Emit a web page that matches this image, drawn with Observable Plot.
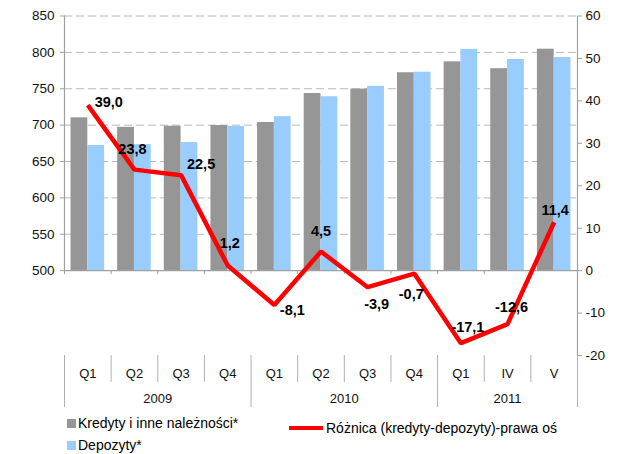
<!DOCTYPE html>
<html>
<head>
<meta charset="utf-8">
<script src="https://cdn.jsdelivr.net/npm/d3@7"></script>
<script src="https://cdn.jsdelivr.net/npm/@observablehq/plot@0.6"></script>
<style>
  html, body { margin: 0; padding: 0; background: #fff; }
  #wrap { position: relative; width: 620px; height: 454px; font-family: "Liberation Sans", Arial, sans-serif; }
  #wrap svg { position: absolute; left: 0; top: 0; }
  .leg { position: absolute; font-size: 14px; color: #000; line-height: 16px; white-space: nowrap; }
  .sw { position: absolute; }
</style>
</head>
<body>
<div id="wrap"></div>
<script>
// ---- data ----
const categories = ["Q1","Q2","Q3","Q4","Q1","Q2","Q3","Q4","Q1","IV","V"];
const years = ["2009","2010","2011"];
const yearStart = [0, 4, 8];
const yearEnd = [4, 8, 11];
const kredyty = [710, 697, 698.5, 699.5, 703.6, 743.5, 749.5, 772, 787, 777.6, 804.4];
const depozyty = [672, 673.2, 676, 698.3, 711.7, 739, 753.4, 772.7, 804.1, 790.2, 793];
const roznica = [39.0, 23.8, 22.5, 1.2, -8.1, 4.5, -3.9, -0.7, -17.1, -12.6, 11.4];
const leftTicks = [500, 550, 600, 650, 700, 750, 800, 850];
const rightTicks = [-20, -10, 0, 10, 20, 30, 40, 50, 60];
const seriesNames = ["Kredyty i inne należności*", "Depozyty*", "Różnica (kredyty-depozyty)-prawa oś"];

// label placement (pixels) for the difference labels
const labelDx = [21, -2, 20, 2, 18, 0, 9, -3, 7, 4, 1];
const labelDy = [-3, -20, -11, -22, 5, -20, 17, 21, -16, -17, -12];

// ---- helpers ----
const LMIN = 500, LMAX = 850, RMAX = 60;
const toRight = v => (v - LMIN) * RMAX / (LMAX - LMIN);
const toLeft = r => LMIN + r * (LMAX - LMIN) / RMAX;
const fmt = v => v.toFixed(1).replace(".", ",");

const idx = categories.map((c, i) => i);
const barsK = idx.map(i => ({x1: i + 0.14, x2: i + 0.5, y1: 0, y2: toRight(kredyty[i])}));
const barsD = idx.map(i => ({x1: i + 0.5, x2: i + 0.86, y1: 0, y2: toRight(depozyty[i])}));
const linePts = idx.map(i => ({x: i + 0.5, y: roznica[i], label: fmt(roznica[i]), dx: labelDx[i], dy: labelDy[i]}));
const cats = idx.map(i => ({x: i + 0.5, label: categories[i]}));
const yrs = years.map((y, j) => ({x: (yearStart[j] + yearEnd[j]) / 2, label: y}));
const boundaries = d3.range(0, categories.length + 1);
const yearBounds = [...new Set([...yearStart, ...yearEnd])];
const quarterBounds = boundaries.filter(b => !yearBounds.includes(b));
const gridVals = leftTicks.filter(t => t > LMIN).map(toRight);

const H = 410;
const pxPerUnit = (355 - 15.5) / 80;

const chart = Plot.plot({
  width: 620,
  height: H,
  marginLeft: 64,
  marginRight: 43,
  marginTop: 15.5,
  marginBottom: H - 355,
  style: {fontFamily: "'Liberation Sans', Arial, sans-serif", background: "white", color: "#000"},
  x: {type: "linear", domain: [0, categories.length], axis: null},
  y: {domain: [-20, 60], axis: null},
  marks: [
    // dashed gridlines (left-axis steps)
    Plot.ruleY(gridVals, {x1: 0, x2: categories.length, stroke: "#b8b8b8", strokeWidth: 1, strokeDasharray: "8,4"}),
    // bars
    Plot.rect(barsK, {x1: "x1", x2: "x2", y1: "y1", y2: "y2", fill: "#969696"}),
    Plot.rect(barsD, {x1: "x1", x2: "x2", y1: "y1", y2: "y2", fill: "#99ccff"}),
    // horizontal axis at 500 with tick marks
    Plot.ruleY([0], {x1: 0, x2: categories.length, stroke: "#a0a0a0", strokeWidth: 1.2}),
    Plot.ruleX(boundaries, {y1: 0, y2: -4 / pxPerUnit, stroke: "#a0a0a0"}),
    // left axis line and ticks
    Plot.ruleX([0], {y1: 0, y2: 60, stroke: "#a0a0a0", strokeWidth: 1.2}),
    Plot.axisY(leftTicks.map(toRight), {
      anchor: "left", tickSize: 4, tickPadding: 6, fontSize: 13.5, label: null,
      stroke: "#a0a0a0", fill: "#111",
      tickFormat: d => String(Math.round(toLeft(d)))
    }),
    // right axis line and ticks
    Plot.ruleX([categories.length], {y1: -20, y2: 60, stroke: "#a0a0a0", strokeWidth: 1.2}),
    Plot.axisY(rightTicks, {
      anchor: "right", tickSize: 4, tickPadding: 4, fontSize: 13.5, label: null,
      stroke: "#a0a0a0", fill: "#111",
      tickFormat: d => String(d)
    }),
    // category axis separators
    Plot.ruleX(quarterBounds, {y1: -20, y2: -20 - 27 / pxPerUnit, stroke: "#b0b0b0"}),
    Plot.ruleX(yearBounds, {y1: -20, y2: -20 - 52 / pxPerUnit, stroke: "#b0b0b0"}),
    Plot.text(cats, {x: "x", y: -20, dy: 18, text: "label", fontSize: 13, fill: "#111"}),
    Plot.text(yrs, {x: "x", y: -20, dy: 43, text: "label", fontSize: 13, fill: "#111"}),
    // difference line
    Plot.line(linePts, {x: "x", y: "y", stroke: "#ff0000", strokeWidth: 4.5, strokeLinejoin: "miter", strokeLinecap: "butt"}),
    ...linePts.map(p => Plot.text([p], {x: "x", y: "y", text: "label", dx: p.dx, dy: p.dy, fontSize: 14.5, fontWeight: "bold", fill: "#000"}))
  ]
});

const wrap = document.getElementById("wrap");
wrap.appendChild(chart);

// legend (HTML below the plot area)
function addSwatch(x, y, w, h, color) {
  const s = document.createElement("div");
  s.className = "sw";
  Object.assign(s.style, {left: x + "px", top: y + "px", width: w + "px", height: h + "px", background: color});
  wrap.appendChild(s);
}
function addText(x, y, text) {
  const t = document.createElement("div");
  t.className = "leg";
  t.style.left = x + "px";
  t.style.top = y + "px";
  t.textContent = text;
  wrap.appendChild(t);
}
addSwatch(67, 419, 9, 9, "#969696");
addText(78, 415, seriesNames[0]);
addSwatch(67, 441, 9, 9, "#99ccff");
addText(78, 437, seriesNames[1]);
addSwatch(289, 426, 34, 4, "#ff0000");
addText(326, 420, seriesNames[2]);
</script>
</body>
</html>
